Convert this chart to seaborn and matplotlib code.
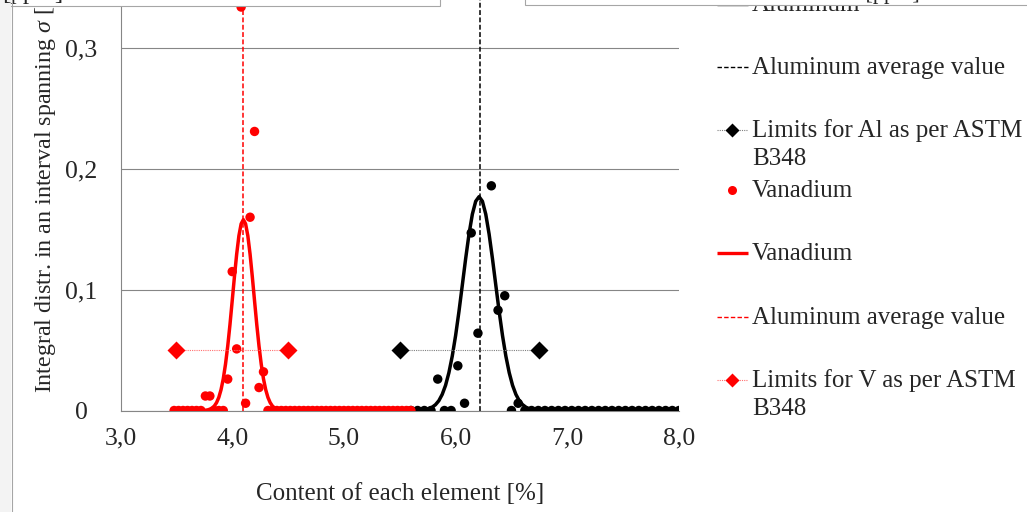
"""Aluminum / vanadium content distributions with ASTM B348 limits."""

import matplotlib.pyplot as plt
import seaborn as sns
from matplotlib.patches import Rectangle

# Aluminum: measured distribution (bins of 0.06 %)
al_x = [
    5.60, 5.66, 5.72, 5.78, 5.84, 5.90, 5.96, 6.02, 6.08, 6.14, 6.20,
    6.26, 6.32, 6.38, 6.44, 6.50, 6.56, 6.62, 6.68, 6.74, 6.80, 6.86,
    6.92, 6.98, 7.04, 7.10, 7.16, 7.22, 7.28, 7.34, 7.40, 7.46, 7.52,
    7.58, 7.64, 7.70, 7.76, 7.82, 7.88, 7.94, 8.00,
]
al_y = [
    0, 0, 0, 0, 0.026, 0, 0, 0.037, 0.006, 0.147, 0.064,
    0.350, 0.186, 0.083, 0.095, 0, 0.006, 0, 0, 0, 0, 0,
    0, 0, 0, 0, 0, 0, 0, 0, 0, 0, 0,
    0, 0, 0, 0, 0, 0, 0, 0,
]

# Aluminum: normal fit
al_fit_x = [
    5.64, 5.67, 5.70, 5.73, 5.76, 5.79, 5.82, 5.85, 5.88, 5.91, 5.94, 5.97, 6.00,
    6.03, 6.06, 6.09, 6.12, 6.15, 6.18, 6.21, 6.24, 6.27, 6.30, 6.33, 6.36, 6.39,
    6.42, 6.45, 6.48, 6.51, 6.54, 6.57, 6.60, 6.63, 6.66, 6.69, 6.72, 6.75, 6.78,
]
al_fit_y = [
    0.0001, 0.0002, 0.0004, 0.0007, 0.0014, 0.0027, 0.0048, 0.0081, 0.0133,
    0.0208, 0.0313, 0.0450, 0.0620, 0.0819, 0.1037, 0.1257, 0.1460, 0.1625,
    0.1732, 0.1770, 0.1732, 0.1625, 0.1460, 0.1257, 0.1037, 0.0819, 0.0620,
    0.0450, 0.0313, 0.0208, 0.0133, 0.0081, 0.0048, 0.0027, 0.0014, 0.0007,
    0.0004, 0.0002, 0.0001,
]

# Vanadium: measured distribution (bins of 0.04 %)
v_x = [
    3.48, 3.52, 3.56, 3.60, 3.64, 3.68, 3.72, 3.76, 3.80, 3.84, 3.88, 3.92,
    3.96, 4.00, 4.04, 4.08, 4.12, 4.16, 4.20, 4.24, 4.28, 4.32, 4.36, 4.40,
    4.44, 4.48, 4.52, 4.56, 4.60, 4.64, 4.68, 4.72, 4.76, 4.80, 4.84, 4.88,
    4.92, 4.96, 5.00, 5.04, 5.08, 5.12, 5.16, 5.20, 5.24, 5.28, 5.32, 5.36,
    5.40, 5.44, 5.48, 5.52, 5.56, 5.60,
]
v_y = [
    0, 0, 0, 0, 0, 0, 0, 0.012, 0.012, 0, 0, 0,
    0.026, 0.115, 0.051, 0.334, 0.006, 0.160, 0.231, 0.019, 0.032, 0, 0, 0,
    0, 0, 0, 0, 0, 0, 0, 0, 0, 0, 0, 0,
    0, 0, 0, 0, 0, 0, 0, 0, 0, 0, 0, 0,
    0, 0, 0, 0, 0, 0,
]

# Vanadium: normal fit
v_fit_x = [
    3.74, 3.76, 3.78, 3.80, 3.82, 3.84, 3.86, 3.88, 3.90, 3.92, 3.94, 3.96, 3.98,
    4.00, 4.02, 4.04, 4.06, 4.08, 4.10, 4.12, 4.14, 4.16, 4.18, 4.20, 4.22, 4.24,
    4.26, 4.28, 4.30, 4.32, 4.34, 4.36, 4.38, 4.40, 4.42, 4.44, 4.46,
]
v_fit_y = [
    0.0001, 0.0002, 0.0005, 0.0011, 0.0021, 0.0037, 0.0065, 0.0108, 0.0172,
    0.0262, 0.0383, 0.0533, 0.0711, 0.0908, 0.1108, 0.1294, 0.1446, 0.1545,
    0.1580, 0.1545, 0.1446, 0.1294, 0.1108, 0.0908, 0.0711, 0.0533, 0.0383,
    0.0262, 0.0172, 0.0108, 0.0065, 0.0037, 0.0021, 0.0011, 0.0005, 0.0002,
    0.0001,
]

al_avg = 6.22
v_avg = 4.10
avg_line_y = [0, 0.4]

al_limits_x = [5.5, 6.75]
v_limits_x = [3.5, 4.5]
limits_y = [0.05, 0.05]

x_ticks = [3, 4, 5, 6, 7, 8]
x_tick_labels = ["3,0", "4,0", "5,0", "6,0", "7,0", "8,0"]
y_ticks = [0, 0.1, 0.2, 0.3]
y_tick_labels = ["0", "0,1", "0,2", "0,3"]

GRID = "#868686"
RED = "#ff0000"


def draw_handle(lax, kind, y, color):
    """Draw an Excel-like legend key at pixel row y."""
    if kind == "dash":
        lax.plot([717, 748], [y, y], color=color, lw=1.0, dashes=(3.2, 1.6))
    elif kind == "line":
        lax.plot([717, 748], [y, y], color=color, lw=2.4, solid_capstyle="butt")
    elif kind == "dot":
        lax.plot([732], [y], "o", color=color, ms=6.5, mec="none")
    elif kind == "limit":
        dot_color = "#808080" if color == "black" else "#ff7070"
        lax.plot([717, 748], [y, y], color=dot_color, lw=0.8, dashes=(1, 1))
        lax.plot([732], [y], "D", color=color, ms=7.5, mec="none")


def main():
    sns.set_style("white")
    plt.rcParams["font.family"] = ["Liberation Serif", "DejaVu Serif"]
    plt.rcParams["mathtext.fontset"] = "custom"
    plt.rcParams["mathtext.rm"] = "Liberation Serif"
    plt.rcParams["mathtext.it"] = "Liberation Serif:italic"
    plt.rcParams["font.size"] = 18

    fig = plt.figure(figsize=(10.27, 5.12), dpi=100)
    # plot area runs above the cropped top edge of the picture
    ax = fig.add_axes([120.5 / 1027, 101.5 / 512, 558.5 / 1027, 483.2 / 512])

    # aluminum series
    sns.scatterplot(x=al_x, y=al_y, color="black", s=46, edgecolor="none",
                    ax=ax, zorder=3, legend=False)
    sns.lineplot(x=al_fit_x, y=al_fit_y, color="black", lw=2.5,
                 estimator=None, sort=False, ax=ax, zorder=3)
    ax.plot([al_avg, al_avg], avg_line_y, color="black", lw=1.1,
            dashes=(3.2, 1.6), zorder=3)
    ax.plot(al_limits_x, limits_y, color="#808080", lw=0.8, dashes=(1, 1),
            zorder=3)
    ax.plot(al_limits_x, limits_y, "D", color="black", ms=9, mec="none",
            zorder=3)

    # vanadium series
    sns.scatterplot(x=v_x, y=v_y, color=RED, s=46, edgecolor="none",
                    ax=ax, zorder=4, legend=False)
    sns.lineplot(x=v_fit_x, y=v_fit_y, color=RED, lw=2.5,
                 estimator=None, sort=False, ax=ax, zorder=4)
    ax.plot([v_avg, v_avg], avg_line_y, color=RED, lw=1.1,
            dashes=(3.2, 1.6), zorder=4)
    ax.plot(v_limits_x, limits_y, color="#ff7070", lw=0.8, dashes=(1, 1),
            zorder=4)
    ax.plot(v_limits_x, limits_y, "D", color=RED, ms=9, mec="none", zorder=4)

    ax.set_xlim(3, 8)
    ax.set_ylim(0, 0.4)
    ax.set_xticks(x_ticks)
    ax.set_xticklabels(x_tick_labels)
    ax.set_yticks(y_ticks)
    ax.set_yticklabels(y_tick_labels)
    for lbl in ax.get_yticklabels():
        lbl.set_horizontalalignment("center")
    ax.tick_params(axis="both", direction="out", length=4, width=0.8,
                   color=GRID, labelsize=18.5)
    ax.tick_params(axis="y", pad=24)
    ax.tick_params(axis="x", pad=8)
    ax.grid(axis="y", color=GRID, lw=0.8)
    ax.set_axisbelow(True)
    for side in ["top", "right"]:
        ax.spines[side].set_visible(False)
    for side in ["left", "bottom"]:
        ax.spines[side].set_color(GRID)
        ax.spines[side].set_linewidth(0.8)
    ax.set_xlabel("Content of each element [%]", fontsize=18, labelpad=24)
    ax.set_ylabel("")

    # overlay in pixel coordinates for legend and cropped frame pieces
    lax = fig.add_axes([0, 0, 1, 1])
    lax.set_xlim(0, 1027)
    lax.set_ylim(512, 0)
    lax.axis("off")

    lax.text(46, 393, r"Integral distr. in an interval spanning $\sigma$ [norm. units]",
             rotation=90, ha="center", va="bottom", fontsize=17.3)

    legend_rows = [
        (["Aluminum"], "line", "black", 4),
        (["Aluminum average value"], "dash", "black", 67),
        (["Limits for Al as per ASTM", "B348"], "limit", "black", 130),
        (["Vanadium"], "dot", RED, 190),
        (["Vanadium"], "line", RED, 253),
        (["Aluminum average value"], "dash", RED, 317),
        (["Limits for V as per ASTM", "B348"], "limit", RED, 380),
    ]
    for lines, kind, color, y in legend_rows:
        draw_handle(lax, kind, y, color)
        for i, line in enumerate(lines):
            lax.text(752, y + 7 + 28 * i, line, ha="left", va="baseline",
                     fontsize=18)

    # pieces of neighbouring frames cut by the crop
    lax.add_patch(Rectangle((-5, -40), 445, 46, facecolor="white",
                            edgecolor="#a6a6a6", lw=0.8, zorder=5))
    lax.add_patch(Rectangle((525, -40), 510, 45, facecolor="white",
                            edgecolor="#a6a6a6", lw=0.8, zorder=5))
    lax.text(2, -1, "[ppm]", ha="left", va="baseline", fontsize=18, zorder=6)
    lax.text(920, -1, "Content of each element [ppm]", ha="right",
             va="baseline", fontsize=16, zorder=6)
    lax.add_patch(Rectangle((0, 0), 11, 512, facecolor="#f3f3f3",
                            edgecolor="none", zorder=5))
    lax.plot([11.5, 11.5], [0, 512], color="#a6a6a6", lw=0.8, zorder=6)

    fig.savefig("out.png", dpi=100)
    plt.close(fig)


if __name__ == "__main__":
    main()
